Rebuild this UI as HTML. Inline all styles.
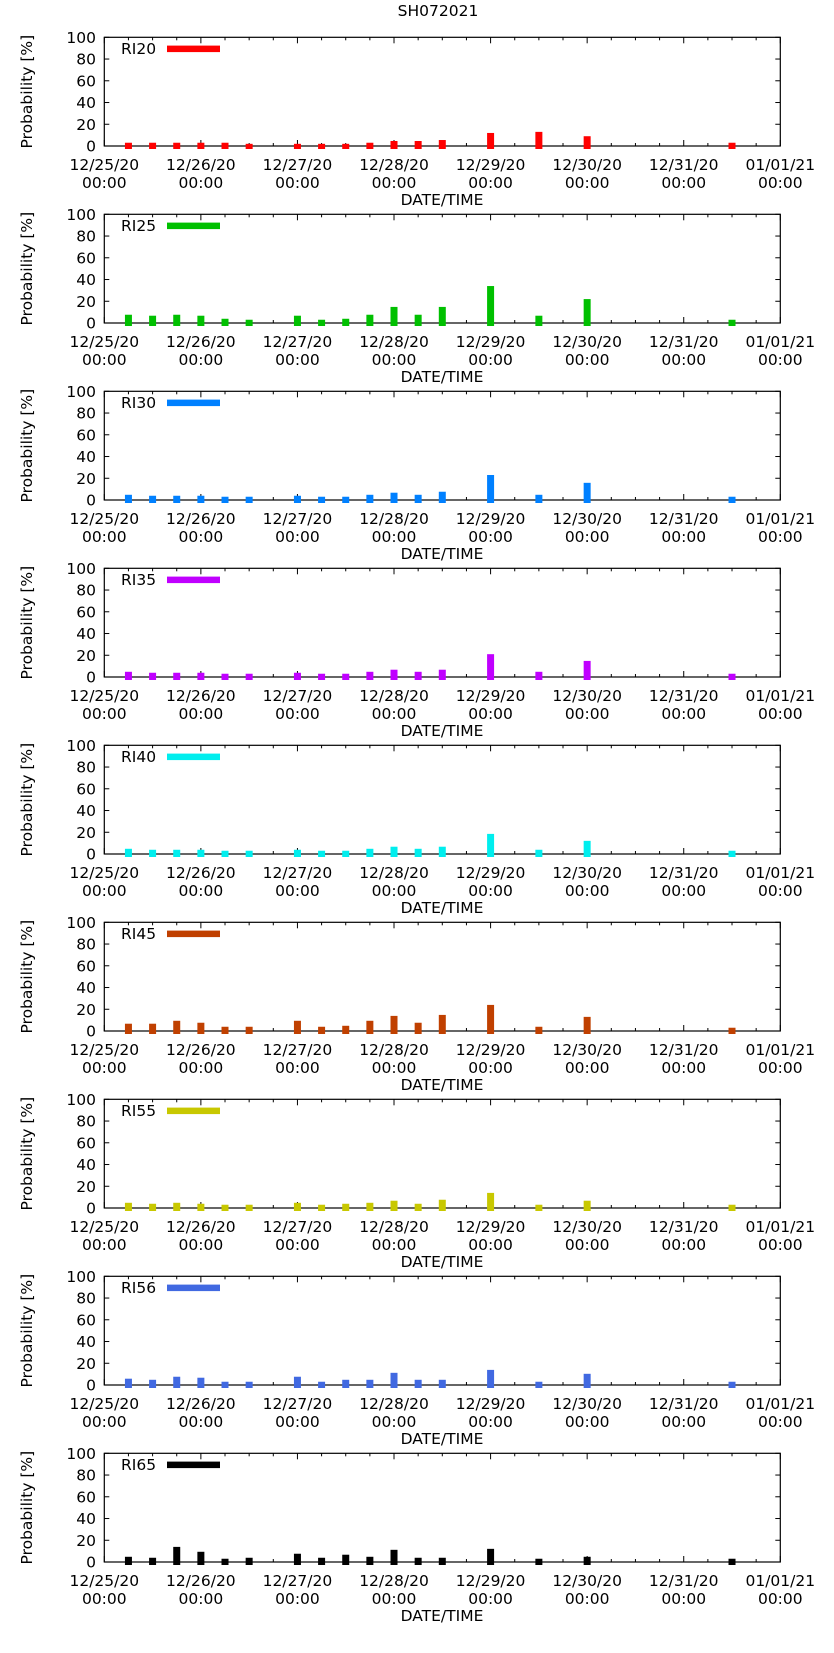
<!DOCTYPE html>
<html><head><meta charset="utf-8">
<style>
html,body{margin:0;padding:0;background:#fff;}
svg{display:block;font-family:"DejaVu Sans","Liberation Sans",sans-serif;}
</style></head>
<body>
<svg id="chart" width="834" height="1653" viewBox="0 0 834 1653" xmlns="http://www.w3.org/2000/svg">
<text x="438" y="16" font-size="15.5" text-anchor="middle">SH072021</text>
</svg>
<script>
// slot index = 6-hour steps after 12/25/20 00:00
const slots = [1,2,3,4,5,6,8,9,10,11,12,13,14,16,18,20,26];
const seriesNames = ["RI20","RI25","RI30","RI35","RI40","RI45","RI55","RI56","RI65"];
const seriesColors = ["#ff0000","#00c000","#0080ff","#c000ff","#00eeee","#c04000","#c8c800","#4169e1","#000000"];
const ri20 = [3,3,3,3,3,2,2,2,2,3,4.6,4.6,5.5,12,13,9,3];
const ri25 = [7.6,6.7,7.6,6.7,3.9,3,6.7,3,3.9,7.6,14.8,7.6,14.8,34,6.7,22,3];
const ri30 = [4.8,3.9,3.9,3.9,3,3,3.9,3,3,4.8,6.7,4.8,7.6,23,4.8,15.8,3];
const ri35 = [4.8,3.9,3.9,3.9,3,3,3.9,3,3,4.8,6.7,4.8,6.7,21,4.8,14.8,3];
const ri40 = [4.8,3.9,3.9,3.9,3,3,3.9,3,3,4.8,6.7,4.8,6.7,18.5,3.9,12.1,3];
const ri45 = [6.7,6.7,9.4,7.6,3.9,3.9,9.4,3.9,4.8,9.4,13.9,7.6,14.8,24,3.9,13,3];
const ri55 = [4.8,3.9,4.8,3.9,3,3,4.8,3,3.9,4.8,6.7,3.9,7.6,13.9,3,6.7,3];
const ri56 = [5.8,4.8,7.6,6.7,3,3,7.6,3,4.8,4.8,11.2,4.8,4.8,13.9,3,10.3,3];
const ri65 = [4.8,3.9,13.9,9.4,3,3.9,7.6,3.9,6.7,4.8,11.2,3.9,3.9,12.1,3,4.8,3];
const seriesValues = [ri20,ri25,ri30,ri35,ri40,ri45,ri55,ri56,ri65];
const yTicks = [0,20,40,60,80,100];
const dayLabels = ["12/25/20","12/26/20","12/27/20","12/28/20","12/29/20","12/30/20","12/31/20","01/01/21"];

const NS = "http://www.w3.org/2000/svg";
const svg = document.getElementById("chart");
const X0 = 104.3, X1 = 780.3, TOP0 = 37.3, H = 108.7, PITCH = 177;
const totalSlots = 28;
function xScale(s){ return X0 + (X1 - X0) * s / totalSlots; }
function mk(tag, attrs, parent){
  const e = document.createElementNS(NS, tag);
  for (const k in attrs) e.setAttribute(k, attrs[k]);
  (parent || svg).appendChild(e);
  return e;
}

seriesNames.forEach((name, p) => {
  const top = TOP0 + PITCH * p, bot = top + H;
  const yScale = v => bot - H * v / 100;
  const g = mk("g", {});
  
  

  // frame
  const fr = mk("rect", {x: X0, y: top, width: X1 - X0, height: H, fill: "none", stroke: "#000", "stroke-width": 1.2}, g);
  
  

  // x ticks
  for (let s = 0; s <= totalSlots; s++) {
    const x = xScale(s), len = (s % 4 === 0) ? 6 : 3;
    mk("line", {x1: x, x2: x, y1: bot, y2: bot - len, stroke: "#000", "stroke-width": 1}, g);
    mk("line", {x1: x, x2: x, y1: top, y2: top + len, stroke: "#000", "stroke-width": 1}, g);
  }
  dayLabels.forEach((d, i) => {
    const x = xScale(i * 4);
    const t = mk("text", {x: x, y: bot + 24, "font-size": 15.5, "text-anchor": "middle"}, g);
    t.textContent = d;
    
    
    const t2 = mk("text", {x: x, y: bot + 42, "font-size": 15.5, "text-anchor": "middle"}, g);
    t2.textContent = "00:00";
    
    
  });
  // y ticks
  yTicks.forEach(v => {
    const y = yScale(v);
    mk("line", {x1: X0, x2: X0 + 5, y1: y, y2: y, stroke: "#000", "stroke-width": 1}, g);
    mk("line", {x1: X1, x2: X1 - 5, y1: y, y2: y, stroke: "#000", "stroke-width": 1}, g);
    const t = mk("text", {x: 96, y: y + 5.5, "font-size": 15.5, "text-anchor": "end"}, g);
    t.textContent = v;
    
    
  });

  // bars (drawn over axis/ticks)
  seriesValues[p].forEach((v, i) => {
    const cx = xScale(slots[i]);
    const y = yScale(v);
    const r = mk("rect", {x: cx - 3.5, y: y, width: 7, height: bot + 3 - y, fill: seriesColors[p]}, g);
    
    
  });

  // y title
  const cy = top + H / 2;
  const yt = mk("text", {x: 32, y: cy, "font-size": 15.5, "text-anchor": "middle", transform: "rotate(-90 32 " + cy + ")"}, g);
  yt.textContent = "Probability [%]";
  
  
  // x title
  const xt = mk("text", {x: 442, y: bot + 59, "font-size": 15.5, "text-anchor": "middle"}, g);
  xt.textContent = "DATE/TIME";
  
  
  // legend
  const lt = mk("text", {x: 121, y: top + 16.5, "font-size": 15.5}, g);
  lt.textContent = name;
  
  
  const ll = mk("rect", {x: 167, y: top + 8.3, width: 53, height: 6.5, fill: seriesColors[p]}, g);
  
  
});
</script>
</body></html>
